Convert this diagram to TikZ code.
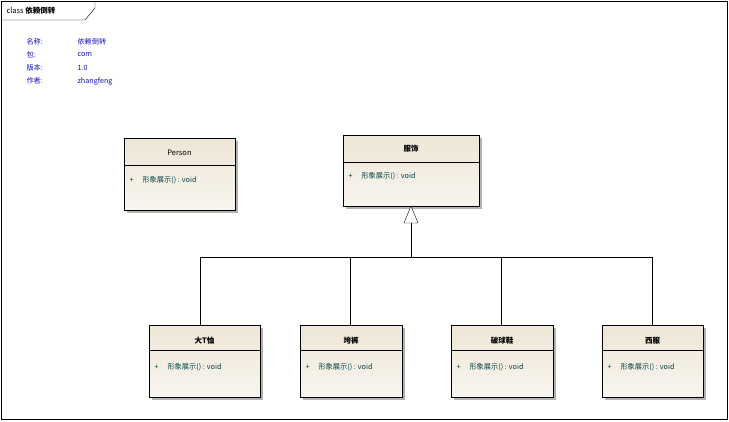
\documentclass[tikz,border=0pt]{standalone}
\usepackage{fontspec}
\setmainfont{Noto Sans CJK SC}
\usetikzlibrary{shadows}
\definecolor{boxfill}{RGB}{238,230,214}
\definecolor{infoblue}{RGB}{20,20,170}
\definecolor{methodgreen}{RGB}{0,64,64}
\tikzset{
  classbox/.style={draw, thick, top color=boxfill, bottom color=boxfill!40!white,
    drop shadow={shadow xshift=3pt, shadow yshift=-3pt, fill=gray!60, opacity=1}},
  headtext/.style={font=\fontsize{7.5}{9}\selectfont},
  methodtext/.style={font=\fontsize{7.2}{9}\selectfont, text=methodgreen, anchor=west},
  infotext/.style={font=\fontsize{7.2}{9}\selectfont, text=infoblue, anchor=west}
}
\newcommand{\umlclass}[6]{% name, x1, y1, x2, y2, divider y
  \path[classbox] (#2,#3) rectangle (#4,#5);
  \coordinate (#1) at ({(#2+#4)/2},#3);
  \draw (#2,#6) -- (#4,#6);
}
\begin{document}
\begin{tikzpicture}[x=1pt, y=-1pt]
    \useasboundingbox (0,0) rectangle (729,421);
    % frame and tab
    \draw (1,1) rectangle (727,419);
    \draw (1,20) -- (85,20) -- (95,8) -- (95,1);
    \node[anchor=west, font=\fontsize{7.5}{9}\selectfont] (title) at (3,11) {class \textbf{依赖倒转}};

    % info block
    \foreach \k/\v [count=\i] in {名称:/依赖倒转, 包:/com, 版本:/1.0, 作者:/zhangfeng}
      \node[infotext] (info\i) at (23,{29+13*\i}) {\k}
        node[infotext] (val\i) at (74,{29+13*\i}) {\v};

    % classes
    \umlclass{person}{124}{138}{235}{210}{165}
    \umlclass{dress}{343}{135}{479}{206}{162}
    \umlclass{tshirt}{149}{325}{260}{397}{350}
    \umlclass{pants}{300}{325}{402}{397}{350}
    \umlclass{shoes}{451}{325}{553}{397}{350}
    \umlclass{suit}{602}{325}{703}{397}{350}

    % class names
    \node[headtext] (personname) at (179.5,153) {Person};
    \node[headtext] (dressname) at (411,149) {\textbf{服饰}};
    \node[headtext] (tshirtname) at (204.5,341) {\textbf{大T恤}};
    \node[headtext] (pantsname) at (351,341) {\textbf{垮裤}};
    \node[headtext] (shoesname) at (502,341) {\textbf{破球鞋}};
    \node[headtext] (suitname) at (652.5,341) {\textbf{西服}};

    % operations
    \foreach \x/\y in {124/180, 343/176, 149/367, 300/367, 451/367, 602/367}
      \node[methodtext] at (\x+2,\y) {+\hspace{9pt}形象展示() : void};

    % generalisation
    \coordinate (tip) at (411,206);
    \coordinate (base) at (411,223);
    \coordinate (bar) at (411,257);
    \draw[fill=white] (tip) -- (404,223) -- (418,223) -- cycle;
    \draw (base) -- (bar);
    \draw (200,257) -- (652,257);
    \foreach \x/\c in {200/tshirt, 350/pants, 501/shoes, 652/suit}
      \draw (\x,257) -- (\x,325);
\end{tikzpicture}
\end{document}
